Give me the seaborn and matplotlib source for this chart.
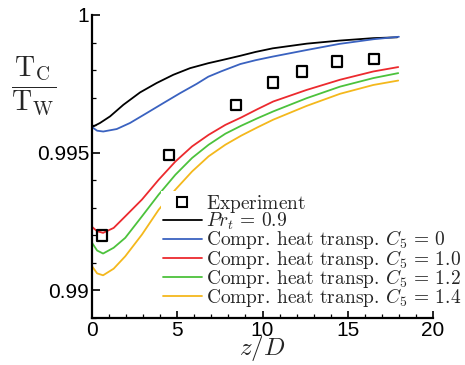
import numpy as np
import pandas as pd
import matplotlib
matplotlib.use("Agg")
import matplotlib.pyplot as plt
import seaborn as sns
from matplotlib.lines import Line2D
from matplotlib.ticker import MultipleLocator, FixedLocator

# ---- data ----
exp_z = [0.6, 4.5, 8.45, 10.63, 12.3, 14.39, 16.56]
exp_y = [0.99200, 0.99493, 0.99674, 0.99755, 0.99795, 0.99831, 0.99841]

prt_z = [0, 0.47, 1.06, 1.84, 2.82, 3.79, 4.77, 5.75, 6.82, 7.6, 8.7, 9.6, 10.6, 12.6, 14.5, 16.5, 17.9]
prt_y = [0.99593, 0.99608, 0.99632, 0.99674, 0.99719, 0.99753, 0.99783, 0.99807, 0.99825,
         0.99836, 0.99852, 0.99866, 0.99879, 0.99896, 0.99907, 0.99916, 0.99919]

c0_z = [0, 0.3, 0.66, 1.45, 2.23, 3.21, 4.18, 5.16, 6.14, 6.82, 7.6, 8.7, 9.6, 10.6, 12.6, 14.5, 16.5, 18.0]
c0_y = [0.99593, 0.99580, 0.99577, 0.99586, 0.99608, 0.99644, 0.99680, 0.99716, 0.99750, 0.99776,
        0.99796, 0.99822, 0.99836, 0.99849, 0.99873, 0.99895, 0.99912, 0.99921]

cz = [0, 0.3, 0.65, 1.27, 1.95, 2.93, 3.91, 4.89, 5.87, 6.84, 7.82, 8.75, 9.7, 10.63, 12.59, 14.55, 16.5, 17.96]
c10_y = [0.99231, 0.99215, 0.99209, 0.99227, 0.99269, 0.99330, 0.99402, 0.99468, 0.99523, 0.99565,
         0.99601, 0.99628, 0.99658, 0.99686, 0.99728, 0.99765, 0.99795, 0.99811]
c12_y = [0.99173, 0.99145, 0.99134, 0.99155, 0.99191, 0.99269, 0.99348, 0.99420, 0.99481, 0.99529,
         0.99569, 0.99598, 0.99625, 0.99650, 0.99698, 0.99740, 0.99771, 0.99789]
c14_y = [0.99088, 0.99062, 0.99055, 0.99079, 0.99124, 0.99203, 0.99293, 0.99366, 0.99432, 0.99487,
         0.99529, 0.99562, 0.99592, 0.99620, 0.99670, 0.99714, 0.99746, 0.99762]

exp_label = r"$\mathrm{Experiment}$"
labels = [r"$Pr_t\,=\,0.9$",
          r"Compr. heat transp. $C_5\,=\,0$",
          r"Compr. heat transp. $C_5\,=\,1.0$",
          r"Compr. heat transp. $C_5\,=\,1.2$",
          r"Compr. heat transp. $C_5\,=\,1.4$"]
colors = ["#000000", "#3a62c0", "#ec2a2e", "#4cc23c", "#f4b81c"]

xticks = [0, 5, 10, 15, 20]
yticks = [0.99, 0.995, 1.0]
ytick_labels = ["0.99", "0.995", "1"]

# ---- build frame ----
frames = []
for lab, zz, yy in zip(labels, [prt_z, c0_z, cz, cz, cz], [prt_y, c0_y, c10_y, c12_y, c14_y]):
    frames.append(pd.DataFrame({"z": zz, "y": yy, "model": lab}))
df = pd.concat(frames, ignore_index=True)
exp_df = pd.DataFrame({"z": exp_z, "y": exp_y})

sns.set_style("white")
plt.rcParams["mathtext.fontset"] = "cm"
plt.rcParams["font.family"] = ["Liberation Sans Narrow", "Liberation Sans", "DejaVu Sans"]

fig = plt.figure(figsize=(4.65, 3.65), dpi=100)
ax = fig.add_axes([92/465, 1-318/365, (433-92)/465, (318-15)/365])

sns.lineplot(data=df, x="z", y="y", hue="model", palette=dict(zip(labels, colors)),
             hue_order=labels, linewidth=1.3, legend=False, ax=ax, sort=True,
             estimator=None)
sns.scatterplot(data=exp_df, x="z", y="y", marker="s", s=55, facecolor="none",
                edgecolor="black", linewidth=1.6, ax=ax, legend=False, zorder=5)

ax.set_xlim(0, 20)
ax.set_ylim(0.989, 1.0)
ax.xaxis.set_major_locator(FixedLocator(xticks))
ax.xaxis.set_minor_locator(MultipleLocator(1))
ax.yaxis.set_major_locator(FixedLocator(yticks))
ax.set_yticklabels(ytick_labels)
ax.yaxis.set_minor_locator(MultipleLocator(0.001))

for s in ["top", "right"]:
    ax.spines[s].set_visible(False)
for s in ["left", "bottom"]:
    ax.spines[s].set_linewidth(1.6)
    ax.spines[s].set_color("black")
ax.tick_params(which="major", direction="in", length=6, width=1.2, labelsize=15, pad=2, colors="black")
ax.tick_params(which="minor", direction="in", length=3, width=0.9, colors="black")
ax.tick_params(axis="x", which="both", bottom=True)
ax.tick_params(axis="y", which="both", left=True)

ax.set_xlabel(r"$z/D$", fontsize=18, labelpad=-4)
ax.set_ylabel("")
fig.text(34/465, 1-86/365, r"$\dfrac{\mathrm{T_C}}{\mathrm{T_W}}$", fontsize=20,
         ha="center", va="center")

handles = [Line2D([], [], marker="s", linestyle="none", markerfacecolor="none",
                  markeredgecolor="black", markersize=7, markeredgewidth=1.5)]
handles += [Line2D([], [], color=c, linewidth=1.3) for c in colors]
leg = fig.legend(handles, [exp_label] + labels, loc="upper left",
                 bbox_to_anchor=(161/465, 1-191/365), frameon=True, fancybox=False,
                 facecolor="white", edgecolor="none", framealpha=1.0,
                 prop={"family": "cmr10", "size": 14.0}, handlelength=2.0,
                 handletextpad=0.2, labelspacing=-0.2, borderpad=0.1, borderaxespad=0)
leg.set_zorder(10)

fig.savefig("out.png", dpi=100)
